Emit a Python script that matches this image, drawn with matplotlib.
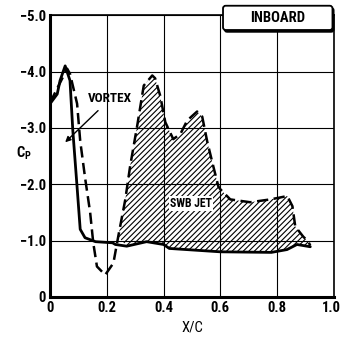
import numpy as np
import matplotlib
matplotlib.use("Agg")
import matplotlib.pyplot as plt
from matplotlib.patches import FancyBboxPatch
from matplotlib.transforms import ScaledTranslation

# solid curve (no jet)
x_solid = [0.0, 0.025, 0.035, 0.053, 0.07, 0.08, 0.095, 0.106, 0.123, 0.16, 0.22,
           0.23, 0.27, 0.34, 0.40, 0.42, 0.60, 0.78, 0.835, 0.87, 0.917]
cp_solid = [-3.43, -3.6, -3.84, -4.1, -3.84, -2.95, -1.95, -1.2, -1.05, -0.98, -0.96,
            -0.93, -0.9, -0.98, -0.93, -0.86, -0.8, -0.79, -0.84, -0.93, -0.89]

# dashed curve (SWB jet)
x_jet = [0.0, 0.028, 0.06, 0.07, 0.095, 0.106, 0.123, 0.141, 0.152, 0.165, 0.194,
         0.223, 0.24, 0.265, 0.282, 0.307, 0.33, 0.36, 0.37, 0.388, 0.406, 0.434,
         0.459, 0.483, 0.518, 0.536, 0.554, 0.575, 0.593, 0.6, 0.635, 0.705, 0.776,
         0.836, 0.854, 0.864, 0.892, 0.91, 0.917]
cp_jet = [-3.45, -3.73, -4.05, -3.96, -3.43, -2.77, -2.12, -1.5, -0.96, -0.54, -0.39,
          -0.6, -1.07, -1.73, -2.32, -3.04, -3.75, -3.93, -3.88, -3.57, -3.1, -2.8,
          -2.89, -3.13, -3.29, -3.2, -2.75, -2.32, -1.96, -1.91, -1.73, -1.68, -1.73,
          -1.79, -1.61, -1.25, -1.07, -0.98, -0.91]

xticks = [0, 0.2, 0.4, 0.6, 0.8, 1.0]
xtick_labels = ["0", "0.2", "0.4", "0.6", "0.8", "1.0"]
yticks = [0, -1, -2, -3, -4, -5]
ytick_labels = ["0", "\u22121.0", "\u22122.0", "\u22123.0", "\u22124.0", "\u22125.0"]

plt.rcParams['font.family'] = ['Roboto Condensed', 'DejaVu Sans']
plt.rcParams['font.weight'] = 'bold'
plt.rcParams['mathtext.default'] = 'regular'
plt.rcParams['hatch.linewidth'] = 0.8

fig = plt.figure(figsize=(3.41, 3.37), dpi=100)
ax = fig.add_axes([0.147, 0.119, 0.832, 0.836])

# hatched region between jet curve and solid curve
xs = np.array(x_solid)
xj = np.array(x_jet)
mj = xj >= 0.235
ms = xs >= 0.235
poly_x = list(xj[mj]) + list(xs[ms][::-1])
poly_y = list(np.array(cp_jet)[mj]) + list(np.array(cp_solid)[ms][::-1])
ax.fill(poly_x, poly_y, facecolor='none', edgecolor='black', hatch='//////', linewidth=0)

ax.plot(x_solid, cp_solid, color='black', lw=2.0, solid_capstyle='round')
ax.plot(x_jet, cp_jet, color='black', lw=1.8, linestyle=(0, (4.5, 2.2)))

ax.set_xlim(0, 1.0)
ax.set_ylim(0, -5.0)
ax.set_xticks(xticks)
ax.set_xticklabels(xtick_labels)
ax.set_yticks(yticks)
ax.set_yticklabels(ytick_labels)
ax.tick_params(length=0, labelsize=10.5, pad=3)
last = ax.get_xticklabels()[-1]
last.set_transform(last.get_transform() + ScaledTranslation(-2 / 72, 0, fig.dpi_scale_trans))
ax.grid(True, color='black', lw=0.8)
ax.set_axisbelow(True)
for s in ['left', 'bottom']:
    ax.spines[s].set_linewidth(2.2)
for s in ['top', 'right']:
    ax.spines[s].set_linewidth(1.2)

ax.set_xlabel("X/C", fontsize=10.5, labelpad=4)
fig.text(0.07, 0.545, "C$_P$", fontsize=10.5, ha='center', va='center')

ax.text(0.212, -3.52, "VORTEX", fontsize=9.5, ha='center', va='center')
ax.annotate("", xy=(0.046, -2.71), xytext=(0.176, -3.34),
            arrowprops=dict(arrowstyle='-|>', color='black', lw=1.0, mutation_scale=8))
ax.text(0.497, -1.66, "SWB JET", fontsize=8.5, ha='center', va='center',
        bbox=dict(facecolor='white', edgecolor='none', pad=0.5))

# INBOARD label box with a small drop shadow
shadow = FancyBboxPatch((0.658, 0.905), 0.321, 0.072, boxstyle='round,pad=0,rounding_size=0.008',
                        transform=fig.transFigure, facecolor='black', edgecolor='black', lw=1)
box = FancyBboxPatch((0.654, 0.911), 0.321, 0.072, boxstyle='round,pad=0,rounding_size=0.008',
                     transform=fig.transFigure, facecolor='white', edgecolor='black', lw=1.3)
fig.patches.extend([shadow, box])
fig.text(0.815, 0.947, "INBOARD", fontsize=10.5, ha='center', va='center')

fig.savefig("out.png", dpi=100)
